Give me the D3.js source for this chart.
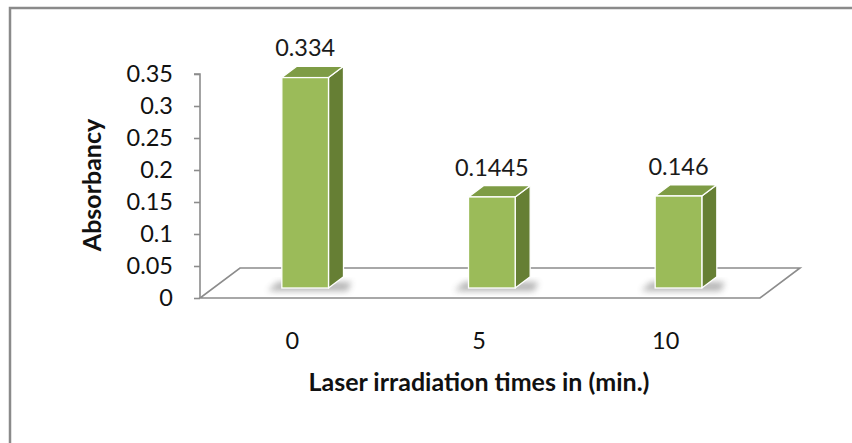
<!DOCTYPE html>
<html><head><meta charset="utf-8">
<script src="https://cdn.jsdelivr.net/npm/d3@7"></script>
<style>html,body{margin:0;padding:0;background:#fff;}svg{display:block;}</style>
</head><body>
<script>
// ---- data ----
const categories = ["0", "5", "10"];
const values = [0.334, 0.1445, 0.146];
const valueLabels = ["0.334", "0.1445", "0.146"];
const yTicks = [0, 0.05, 0.1, 0.15, 0.2, 0.25, 0.3, 0.35];
const yTickLabels = ["0", "0.05", "0.1", "0.15", "0.2", "0.25", "0.3", "0.35"];
const xTitle = "Laser irradiation times in (min.)";
const yTitle = "Absorbancy";

const W = 852, H = 443;
const svg = d3.select("body").append("svg").attr("width", W).attr("height", H);
const font = "Lato, 'Open Sans', sans-serif";
const fs = 23.5;

// border
svg.append("rect").attr("x", 10).attr("y", 8).attr("width", 900).attr("height", 500)
  .attr("fill", "#fff").attr("stroke", "#8a8a8a").attr("stroke-width", 2.5);

// scales
const x0 = 200, x1 = 760, yFloor = 298;
const depthDx = 40, depthDy = -30;
const x = d3.scaleBand().domain(categories).range([x0, x1]);
const y = d3.scaleLinear().domain([0, 0.35]).range([yFloor, 74]);
const fFront = 1/3, fDepth = 0.375;
const barBase = yFloor + depthDy * fFront;
const yBar = d3.scaleLinear().domain([0, 0.35]).range([barBase, barBase - 0.35 * 630]);
const barW = x.bandwidth() * 0.25;
const bdx = depthDx * fDepth, bdy = depthDy * fDepth;

// floor
const floorPts = [[x0, yFloor], [x1, yFloor], [x1 + depthDx, yFloor + depthDy], [x0 + depthDx, yFloor + depthDy]];
svg.append("polygon").attr("points", floorPts.map(p => p.join(",")).join(" "))
  .attr("fill", "#fff").attr("stroke", "#8c8c8c").attr("stroke-width", 1.6);

// y axis
const yAxis = d3.axisLeft(y).tickValues(yTicks).tickSize(6).tickFormat((d, i) => yTickLabels[i]);
const gy = svg.append("g").attr("transform", `translate(${x0},0)`).call(yAxis);
gy.select(".domain").attr("stroke", "#8c8c8c").attr("stroke-width", 1.6).attr("d", `M-6,${y(0.35)}H0V${yFloor}`);
gy.selectAll(".tick line").attr("stroke", "#8c8c8c").attr("stroke-width", 1.6);
gy.selectAll(".tick text").attr("x", -27).attr("font-family", font).attr("font-size", fs).attr("fill", "#111");

// shadow filter
const defs = svg.append("defs");
defs.append("filter").attr("id", "blur").attr("x", "-50%").attr("y", "-50%").attr("width", "200%").attr("height", "200%")
  .append("feGaussianBlur").attr("stdDeviation", 3);

const bars = categories.map((c, i) => {
  const xl = x(c) + x.bandwidth() / 2 - barW / 2 + depthDx * fFront - 1.5;
  return { c, v: values[i], lab: valueLabels[i], xl, xr: xl + barW, yt: yBar(values[i]), yb: barBase };
});

// shadows
svg.append("g").selectAll("polygon").data(bars).join("polygon")
  .attr("points", d => [[d.xl - 14, d.yb + 3], [d.xr + bdx + 4, d.yb + 3], [d.xr + bdx + 8, d.yb - 6], [d.xl - 4, d.yb - 6]].map(p => p.join(",")).join(" "))
  .attr("fill", "#444").attr("opacity", 0.4).attr("filter", "url(#blur)");

const gBars = svg.append("g");
// side face
gBars.selectAll(".side").data(bars).join("polygon")
  .attr("points", d => [[d.xr, d.yb], [d.xr + bdx, d.yb + bdy], [d.xr + bdx, d.yt + bdy], [d.xr, d.yt]].map(p => p.join(",")).join(" "))
  .attr("fill", "#667f34").attr("stroke", "#fff").attr("stroke-width", 1.3).attr("stroke-linejoin", "round");
// top face
gBars.selectAll(".top").data(bars).join("polygon")
  .attr("points", d => [[d.xl, d.yt], [d.xr, d.yt], [d.xr + bdx, d.yt + bdy], [d.xl + bdx, d.yt + bdy]].map(p => p.join(",")).join(" "))
  .attr("fill", "#7e9c45").attr("stroke", "#fff").attr("stroke-width", 1.3).attr("stroke-linejoin", "round");
// front face
gBars.selectAll(".front").data(bars).join("rect")
  .attr("x", d => d.xl).attr("y", d => d.yt).attr("width", barW).attr("height", d => d.yb - d.yt)
  .attr("fill", "#9bbb59").attr("stroke", "#fff").attr("stroke-width", 1.3);

// value labels
svg.append("g").selectAll("text").data(bars).join("text")
  .attr("x", d => (d.xl + d.xr) / 2).attr("y", d => d.yt + bdy - 10)
  .attr("text-anchor", "middle").attr("font-family", font).attr("font-size", fs).attr("fill", "#1a1a1a")
  .text(d => d.lab);

// category labels
svg.append("g").selectAll("text").data(categories).join("text")
  .attr("x", d => x(d) + x.bandwidth() / 2 - 1).attr("y", 349)
  .attr("text-anchor", "middle").attr("font-family", font).attr("font-size", fs).attr("fill", "#111")
  .text(d => d);

// axis titles
svg.append("text").attr("x", 479).attr("y", 391).attr("text-anchor", "middle")
  .attr("font-family", font).attr("font-weight", "bold").attr("font-size", 25).attr("fill", "#111").text(xTitle);
svg.append("text").attr("transform", "translate(101,185) rotate(-90)").attr("text-anchor", "middle")
  .attr("font-family", font).attr("font-weight", "bold").attr("font-size", 25).attr("fill", "#111").text(yTitle);
</script>
</body></html>
